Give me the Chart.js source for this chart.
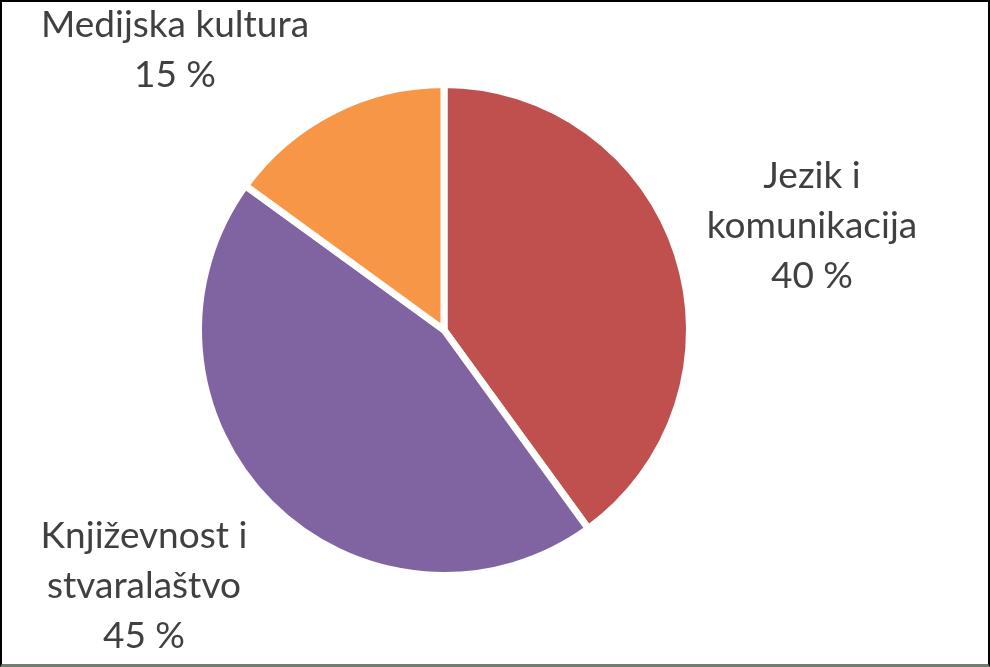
<!DOCTYPE html>
<html>
<head>
<meta charset="utf-8">
<script src="https://cdn.jsdelivr.net/npm/chart.js@4"></script>
<style>
    html, body { margin: 0; padding: 0; background: #fff; }
    #wrap { position: relative; width: 990px; height: 667px; }
    #frame {
        position: absolute; left: 0; top: 0; width: 990px; height: 667px;
        box-sizing: border-box; pointer-events: none;
        border-top: 2px solid #000; border-left: 2px solid #000; border-right: 2px solid #000;
        border-bottom: 3px solid #6f7f6f;
    }
</style>
</head>
<body>
<div id="wrap">
    <canvas id="pie" width="990" height="667"></canvas>
    <div id="frame"></div>
</div>
<script>
// chart data
const categories = ['Jezik i komunikacija', 'Književnost i stvaralaštvo', 'Medijska kultura'];
const shares = [40, 45, 15];
const sliceColors = ['#C0504D', '#8064A2', '#F79646'];

// label text lines, one entry per category
const labelLines = [
    ['Jezik i', 'komunikacija'],
    ['Književnost i', 'stvaralaštvo'],
    ['Medijska kultura']
];

// where each label block goes (x centre, first baseline)
const labelSpots = [
    { x: 812, y: 188 },
    { x: 144, y: 548 },
    { x: 175, y: 37 }
];

const pieLabels = {
    id: 'pieLabels',
    afterDatasetsDraw(chart) {
        const ctx = chart.ctx;
        const data = chart.data.datasets[0].data;
        ctx.save();
        ctx.font = '37px Lato';
        ctx.fillStyle = '#404040';
        ctx.textAlign = 'center';
        ctx.textBaseline = 'alphabetic';
        for (let i = 0; i < data.length; i++) {
            let lines = labelLines[i].concat([data[i] + ' %']);
            let spot = labelSpots[i];
            for (let j = 0; j < lines.length; j++) {
                ctx.fillText(lines[j], spot.x, spot.y + j * 50);
            }
        }
        ctx.restore();
    }
};

const info = {
    labels: categories,
    datasets: [{
        data: shares,
        backgroundColor: sliceColors,
        borderColor: '#ffffff',
        borderWidth: 7
    }]
};

const config = {
    type: 'pie',
    data: info,
    options: {
        responsive: false,
        animation: false,
        layout: {
            padding: { left: 195, right: 297, top: 81, bottom: 88 }
        },
        plugins: {
            legend: { display: false },
            tooltip: { enabled: false }
        }
    },
    plugins: [pieLabels]
};

const myChart = new Chart(document.getElementById('pie'), config);
</script>
</body>
</html>
